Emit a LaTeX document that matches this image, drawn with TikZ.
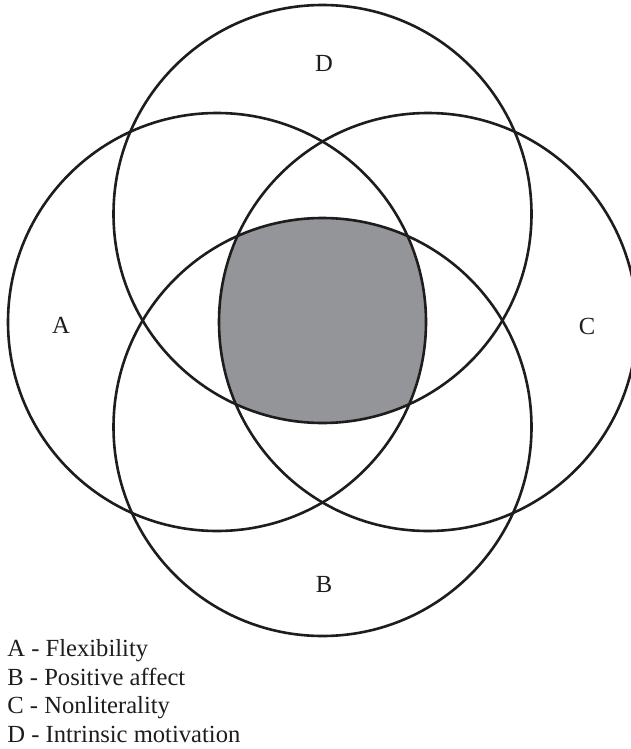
\documentclass[tikz,border=0pt]{standalone}
\usepackage{fontspec}
\setmainfont{Liberation Serif}
\usetikzlibrary{positioning}
\definecolor{coregray}{RGB}{147,149,152}
\definecolor{inkblack}{RGB}{30,28,29}

\begin{document}
\begin{tikzpicture}[
  x=0.5pt, y=-0.5pt,
  setline/.style={draw=inkblack, line width=1.3pt},
  setlabel/.style={inner sep=0pt, text=inkblack, font=\fontsize{12.3}{14.3}\selectfont},
  keyline/.style={inner sep=0pt, anchor=base west, text=inkblack, font=\fontsize{12.3}{14.3}\selectfont}
]
\useasboundingbox (0,0) rectangle (631,749);

% centres of the four sets
\coordinate (cA) at (217,322);
\coordinate (cC) at (428,322);
\coordinate (cD) at (322.5,214);
\coordinate (cB) at (322.5,427);

% common part of all four sets
\begin{scope}
  \clip (cA) circle[radius=104.5pt];
  \clip (cB) circle[radius=104.5pt];
  \clip (cC) circle[radius=104.5pt];
  \fill[coregray] (cD) circle[radius=104.5pt];
\end{scope}

\draw[setline] (cA) circle[radius=104.5pt];
\draw[setline] (cB) circle[radius=104.5pt];
\draw[setline] (cC) circle[radius=104.5pt];
\draw[setline] (cD) circle[radius=104.5pt];

\node[setlabel] (labA) at (61,325) {A};
\node[setlabel] (labB) at (324,584) {B};
\node[setlabel] (labC) at (587,326) {C};
\node[setlabel] (labD) at (324,63) {D};

\node[keyline] (keyA) at (7,656) {A - Flexibility};
\node[keyline] (keyB) at (7,685) {B - Positive affect};
\node[keyline] (keyC) at (7,713) {C - Nonliterality};
\node[keyline] (keyD) at (7,742) {D - Intrinsic motivation};
\end{tikzpicture}
\end{document}
